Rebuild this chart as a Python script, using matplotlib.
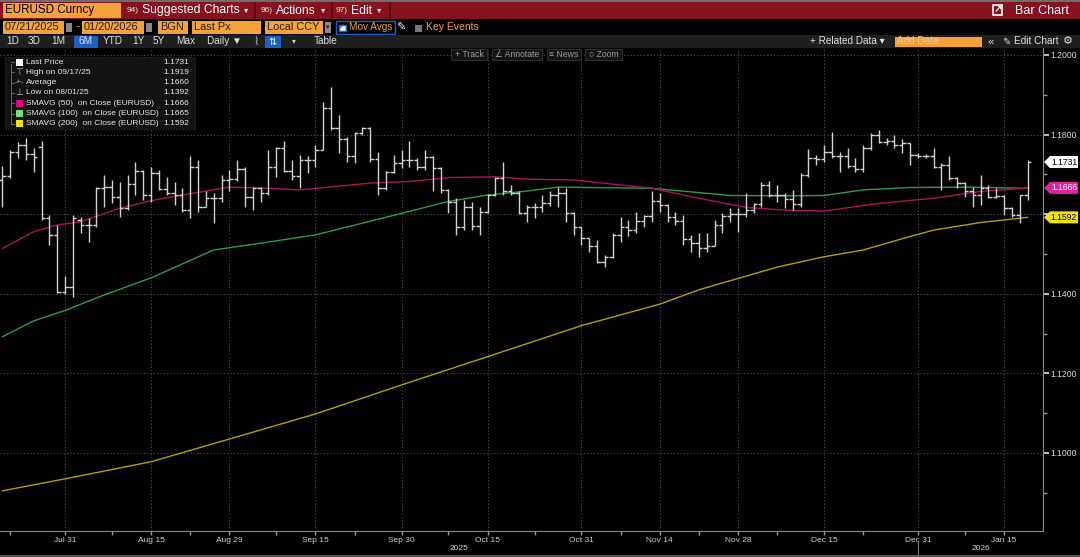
import numpy as np
import pandas as pd
import matplotlib
matplotlib.use('Agg')
import matplotlib.pyplot as plt
from matplotlib.patches import Rectangle, Polygon

plt.rcParams['font.family'] = ['Liberation Sans', 'DejaVu Sans']

# daily bars, EURUSD 07/21/2025 - 01/20/2026
dates = pd.bdate_range('2025-07-21', '2026-01-20')

opens = [1.1686, 1.1696, 1.1757, 1.1774, 1.1751, 1.1770, 1.1590, 1.1548, 1.1405, 1.1418,
         1.1585, 1.1573, 1.1573, 1.1665, 1.1668, 1.1642, 1.1615, 1.1676, 1.1709, 1.1648,
         1.1704, 1.1662, 1.1654, 1.1648, 1.1611, 1.1719, 1.1619, 1.1640, 1.1640, 1.1686,
         1.1688, 1.1713, 1.1642, 1.1665, 1.1652, 1.1718, 1.1765, 1.1709, 1.1696, 1.1736,
         1.1736, 1.1761, 1.1866, 1.1816, 1.1788, 1.1746, 1.1803, 1.1816, 1.1738, 1.1665,
         1.1707, 1.1729, 1.1736, 1.1735, 1.1718, 1.1743, 1.1715, 1.1661, 1.1631, 1.1569,
         1.1619, 1.1571, 1.1606, 1.1648, 1.1690, 1.1657, 1.1652, 1.1602, 1.1618, 1.1619,
         1.1627, 1.1648, 1.1652, 1.1602, 1.1567, 1.1539, 1.1521, 1.1481, 1.1493, 1.1548,
         1.1569, 1.1559, 1.1584, 1.1595, 1.1634, 1.1623, 1.1594, 1.1584, 1.1537, 1.1527,
         1.1514, 1.1521, 1.1573, 1.1595, 1.1600, 1.1600, 1.1611, 1.1625, 1.1673, 1.1648,
         1.1648, 1.1638, 1.1626, 1.1698, 1.1740, 1.1738, 1.1757, 1.1746, 1.1745, 1.1721,
         1.1713, 1.1765, 1.1799, 1.1782, 1.1785, 1.1774, 1.1778, 1.1749, 1.1746, 1.1746,
         1.1719, 1.1724, 1.1690, 1.1678, 1.1657, 1.1648, 1.1665, 1.1644, 1.1646, 1.1615,
         1.1598, 1.1648]
highs = [1.1721, 1.1761, 1.1782, 1.1791, 1.1765, 1.1783, 1.1598, 1.1573, 1.1445, 1.1598,
         1.1594, 1.1590, 1.1669, 1.1698, 1.1686, 1.1682, 1.1698, 1.1732, 1.1711, 1.1719,
         1.1711, 1.1694, 1.1682, 1.1665, 1.1745, 1.1736, 1.1657, 1.1652, 1.1698, 1.1711,
         1.1736, 1.1718, 1.1669, 1.1669, 1.1761, 1.1770, 1.1783, 1.1736, 1.1749, 1.1745,
         1.1774, 1.1883, 1.1919, 1.1849, 1.1795, 1.1807, 1.1820, 1.1820, 1.1757, 1.1709,
         1.1749, 1.1761, 1.1783, 1.1740, 1.1761, 1.1745, 1.1718, 1.1663, 1.1640, 1.1636,
         1.1631, 1.1619, 1.1650, 1.1694, 1.1732, 1.1674, 1.1657, 1.1623, 1.1627, 1.1648,
         1.1657, 1.1669, 1.1665, 1.1605, 1.1569, 1.1540, 1.1535, 1.1498, 1.1552, 1.1594,
         1.1585, 1.1606, 1.1598, 1.1657, 1.1652, 1.1625, 1.1606, 1.1598, 1.1548, 1.1552,
         1.1552, 1.1585, 1.1602, 1.1615, 1.1615, 1.1652, 1.1628, 1.1682, 1.1684, 1.1674,
         1.1652, 1.1661, 1.1703, 1.1763, 1.1749, 1.1774, 1.1807, 1.1757, 1.1765, 1.1740,
         1.1774, 1.1803, 1.1812, 1.1791, 1.1799, 1.1788, 1.1780, 1.1753, 1.1751, 1.1765,
         1.1728, 1.1745, 1.1694, 1.1682, 1.1669, 1.1698, 1.1674, 1.1665, 1.1648, 1.1619,
         1.1648, 1.1737]
lows = [1.1619, 1.1690, 1.1740, 1.1736, 1.1707, 1.1585, 1.1523, 1.1401, 1.1400, 1.1392,
        1.1552, 1.1531, 1.1569, 1.1619, 1.1627, 1.1594, 1.1611, 1.1648, 1.1636, 1.1631,
        1.1661, 1.1648, 1.1623, 1.1606, 1.1590, 1.1606, 1.1619, 1.1577, 1.1631, 1.1657,
        1.1684, 1.1619, 1.1611, 1.1631, 1.1648, 1.1694, 1.1707, 1.1686, 1.1665, 1.1703,
        1.1719, 1.1761, 1.1812, 1.1753, 1.1732, 1.1728, 1.1800, 1.1732, 1.1648, 1.1661,
        1.1703, 1.1715, 1.1719, 1.1711, 1.1711, 1.1657, 1.1652, 1.1602, 1.1548, 1.1560,
        1.1560, 1.1548, 1.1602, 1.1645, 1.1648, 1.1648, 1.1600, 1.1581, 1.1590, 1.1606,
        1.1621, 1.1619, 1.1581, 1.1548, 1.1523, 1.1506, 1.1477, 1.1468, 1.1490, 1.1531,
        1.1544, 1.1552, 1.1569, 1.1581, 1.1606, 1.1581, 1.1573, 1.1523, 1.1506, 1.1493,
        1.1506, 1.1519, 1.1552, 1.1581, 1.1556, 1.1594, 1.1602, 1.1619, 1.1644, 1.1631,
        1.1615, 1.1611, 1.1619, 1.1694, 1.1724, 1.1732, 1.1740, 1.1707, 1.1715, 1.1707,
        1.1707, 1.1761, 1.1778, 1.1774, 1.1765, 1.1753, 1.1724, 1.1740, 1.1740, 1.1715,
        1.1661, 1.1686, 1.1665, 1.1644, 1.1619, 1.1623, 1.1640, 1.1640, 1.1598, 1.1594,
        1.1577, 1.1635]
closes = [1.1696, 1.1757, 1.1774, 1.1751, 1.1743, 1.1590, 1.1548, 1.1405, 1.1418, 1.1590,
          1.1573, 1.1573, 1.1665, 1.1668, 1.1642, 1.1615, 1.1676, 1.1709, 1.1648, 1.1704,
          1.1662, 1.1654, 1.1648, 1.1611, 1.1719, 1.1619, 1.1640, 1.1640, 1.1686, 1.1688,
          1.1713, 1.1642, 1.1665, 1.1652, 1.1718, 1.1765, 1.1709, 1.1696, 1.1736, 1.1736,
          1.1761, 1.1866, 1.1816, 1.1788, 1.1746, 1.1803, 1.1816, 1.1738, 1.1665, 1.1707,
          1.1729, 1.1736, 1.1735, 1.1718, 1.1743, 1.1715, 1.1661, 1.1631, 1.1569, 1.1619,
          1.1571, 1.1606, 1.1648, 1.1690, 1.1657, 1.1652, 1.1602, 1.1618, 1.1619, 1.1627,
          1.1648, 1.1652, 1.1602, 1.1567, 1.1539, 1.1521, 1.1481, 1.1493, 1.1548, 1.1569,
          1.1559, 1.1584, 1.1595, 1.1634, 1.1623, 1.1594, 1.1584, 1.1537, 1.1527, 1.1514,
          1.1521, 1.1573, 1.1595, 1.1600, 1.1600, 1.1611, 1.1625, 1.1673, 1.1648, 1.1648,
          1.1638, 1.1626, 1.1698, 1.1740, 1.1738, 1.1757, 1.1746, 1.1745, 1.1721, 1.1713,
          1.1765, 1.1799, 1.1782, 1.1785, 1.1774, 1.1778, 1.1749, 1.1746, 1.1746, 1.1719,
          1.1724, 1.1690, 1.1678, 1.1657, 1.1648, 1.1665, 1.1644, 1.1646, 1.1615, 1.1598,
          1.1648, 1.1731]

# moving averages (bar index, value)
sma50_idx = [0, 4, 7, 10, 15, 19, 23, 29, 34, 38, 47, 52, 57, 63, 67, 73, 83, 89, 95,
             101, 105, 112, 119, 125, 131]
sma50_val = [1.1514, 1.1556, 1.1573, 1.1581, 1.1615, 1.1634, 1.1648, 1.1668, 1.1665,
             1.1661, 1.1678, 1.1682, 1.1692, 1.1694, 1.1688, 1.1686, 1.1665, 1.1640,
             1.1617, 1.1609, 1.1608, 1.1627, 1.1640, 1.1657, 1.1666]
sma100_idx = [0, 4, 8, 13, 19, 27, 34, 40, 51, 57, 62, 67, 71, 83, 93, 100, 105, 110,
              116, 123, 131]
sma100_val = [1.1292, 1.1332, 1.1358, 1.1397, 1.1440, 1.1510, 1.1530, 1.1548, 1.1602,
              1.1632, 1.1648, 1.1658, 1.1668, 1.1665, 1.1647, 1.1646, 1.1647, 1.1661,
              1.1667, 1.1668, 1.1665]
sma200_idx = [0, 8, 19, 29, 40, 51, 62, 74, 84, 89, 99, 105, 110, 116, 119, 125, 131]
sma200_val = [1.0905, 1.0935, 1.0978, 1.1035, 1.1098, 1.1171, 1.1242, 1.1320, 1.1374,
              1.1410, 1.1467, 1.1493, 1.1510, 1.1544, 1.1560, 1.1579, 1.1592]

tick_dates = ['2025-07-31', '2025-08-15', '2025-08-29', '2025-09-15', '2025-09-30',
              '2025-10-15', '2025-10-31', '2025-11-14', '2025-11-28', '2025-12-15',
              '2025-12-31', '2026-01-15']
tick_labels = ['Jul 31', 'Aug 15', 'Aug 29', 'Sep 15', 'Sep 30', 'Oct 15', 'Oct 31',
               'Nov 14', 'Nov 28', 'Dec 15', 'Dec 31', 'Jan 15']
minor_dates = ['2025-07-22', '2025-08-08', '2025-08-22', '2025-09-08', '2025-09-22',
               '2025-10-08', '2025-10-23', '2025-11-07', '2025-11-21', '2025-12-05',
               '2025-12-22', '2026-01-08']

y_major = [1.10, 1.12, 1.14, 1.16, 1.18, 1.20]
y_minor = [1.09, 1.11, 1.13, 1.15, 1.17, 1.19]

W, H = 1080, 557
fig = plt.figure(figsize=(W / 100, H / 100), dpi=100, facecolor='black')

ax = fig.add_axes([0, 1 - 531 / H, 1043 / W, (531 - 47) / H])
ax.set_facecolor('black')
x = np.arange(len(dates))
barc = '#d2d2d2'
ax.vlines(x, lows, highs, color=barc, lw=1, zorder=3)
ax.hlines(opens, x - 0.45, x, color=barc, lw=1, zorder=3)
ax.hlines(closes, x, x + 0.45, color=barc, lw=1, zorder=3)
ax.plot(sma200_idx, sma200_val, color='#b3a100', lw=1, zorder=2)
ax.plot(sma100_idx, sma100_val, color='#2f9c48', lw=1, zorder=2)
ax.plot(sma50_idx, sma50_val, color='#a8145e', lw=1, zorder=2)

ax.set_xlim(-0.31, 132.98)
ax.set_ylim(1.0804, 1.2020)

ax.yaxis.tick_right()
ax.set_yticks(y_major)
ax.set_yticks(y_minor, minor=True)
ax.set_yticklabels(['%.4f' % v for v in y_major])
pos = [dates.get_loc(pd.Timestamp(d)) for d in tick_dates]
ax.set_xticks(pos)
ax.set_xticklabels(tick_labels)
ax.set_xticks([dates.get_loc(pd.Timestamp(d)) for d in minor_dates], minor=True)
ax.tick_params(axis='y', which='major', direction='out', length=4, width=1.5,
               color='#bbbbbb', labelsize=6.2, labelcolor='#dcdcdc', pad=1.5)
ax.tick_params(axis='y', which='minor', direction='out', length=3, width=1, color='#999999')
ax.tick_params(axis='x', which='both', direction='out', length=3, width=1,
               color='#999999', labelsize=6, labelcolor='#cfcfcf', pad=1)
ax.grid(which='major', color='#505050', linestyle=(0, (1, 2)), lw=0.8, zorder=0)
for s in ['left', 'top']:
    ax.spines[s].set_visible(False)
for s in ['right', 'bottom']:
    ax.spines[s].set_color('#8a8a8a')

# year labels under the axis
yr_split = dates.get_loc(pd.Timestamp('2025-12-31'))
for label, a, b in [('2025', -0.31, yr_split), ('2026', yr_split, 132.98)]:
    ax.text((a + b) / 2, -0.036, label, transform=ax.get_xaxis_transform(),
            ha='center', va='center', fontsize=6, color='#cfcfcf')
ax.plot([yr_split] * 2, [-0.02, -0.05], transform=ax.get_xaxis_transform(),
        color='#777777', lw=0.8, clip_on=False)

# overlay in pixel coordinates for the terminal chrome
ov = fig.add_axes([0, 0, 1, 1], zorder=5)
ov.set_xlim(0, W)
ov.set_ylim(H, 0)
ov.axis('off')

ORANGE = '#f5a13a'
RED = '#86111f'
BLUE = '#1d5fc4'


def box(x0, y0, x1, y1, fc, ec='none', lw=0.8, ls='-'):
    ov.add_patch(Rectangle((x0, y0), x1 - x0, y1 - y0, facecolor=fc, edgecolor=ec,
                           lw=lw, ls=ls))


def txt(x0, y0, s, size=8.5, color='white', ha='left', **kw):
    ov.text(x0, y0, s, fontsize=size, color=color, ha=ha, va='center', **kw)


# frame
box(0, 0, W, 2, '#6e6e6e')
box(0, H - 2, W, H, '#555555')
# row 1
box(0, 2, W, 19, RED)
box(3, 3, 121, 17.5, ORANGE)
txt(5, 10.5, 'EURUSD Curncy', 8.4, 'black')
for xs in [254, 331, 389]:
    box(xs, 2, xs + 1.5, 19, '#5a0a14')
txt(127, 10.5, '94)', 6, '#e8e8e8')
txt(142, 10.5, 'Suggested Charts', 8.7)
txt(244, 10.5, '▾', 6)
txt(261, 10.5, '96)', 6, '#e8e8e8')
txt(276, 10.5, 'Actions', 8.7)
txt(321, 10.5, '▾', 6)
txt(336, 10.5, '97)', 6, '#e8e8e8')
txt(351, 10.5, 'Edit', 8.7)
txt(377, 10.5, '▾', 6)
ov.add_patch(Rectangle((993, 5), 9, 10, facecolor='none', edgecolor='white', lw=1.2))
txt(998, 9.5, '↗', 7, 'white', ha='center', fontweight='bold')
txt(1015, 10.5, 'Bar Chart', 9)

# row 2
box(0, 19, W, 35, 'black')
fields = [(3, 64, '07/21/2025'), (82, 144, '01/20/2026'), (158, 188, 'BGN'),
          (192, 261, 'Last Px'), (265, 323, 'Local CCY')]
for a, b, s in fields:
    box(a, 21, b, 34, ORANGE)
    txt(a + 2, 27.5, s, 7.9, '#222222')
for a in [66, 146]:
    box(a, 23, a + 5.5, 32, '#8a8a8a')
txt(75, 27.5, '-', 9, ORANGE)
box(325, 22, 331, 33, '#8a8a8a')
txt(328, 27.5, '▾', 5, '#222222', ha='center')
box(336, 21, 395, 34, 'none', ec=BLUE, lw=1)
box(339, 24.5, 345.5, 31, 'white', ec=BLUE, lw=1)
txt(342.2, 27.7, '✓', 5.5, BLUE, ha='center', fontweight='bold')
txt(349, 27.5, 'Mov Avgs', 7.2, ORANGE)
txt(401, 27.5, '✎', 8, 'white', ha='center')
box(415, 24.5, 422, 31.5, '#777777')
txt(426, 27.5, 'Key Events', 7.5, ORANGE)

# row 3
box(0, 35, W, 48, '#1f1f1f')
periods = [(13, '1D'), (34, '3D'), (58, '1M'), (86, '6M'), (113, 'YTD'), (138, '1Y'),
           (159, '5Y'), (186, 'Max')]
box(74, 36, 98, 47.5, BLUE)
for xp, s in periods:
    txt(xp, 41.5, s, 7.2, '#e0e0e0', ha='center')
txt(207, 41.5, 'Daily ▼', 7.2, '#e0e0e0')
txt(255.5, 41.5, '⌇', 8, '#bbbbbb', ha='center')
box(264.5, 36, 280.5, 47.5, BLUE)
txt(272.5, 41.5, '⇅', 7, 'white', ha='center')
txt(294, 41.5, '▾', 5.5, '#cccccc', ha='center')
txt(326, 41.5, 'Table', 7.2, '#e0e0e0', ha='center')
txt(810, 41.5, '+ Related Data ▾', 7.2, '#e0e0e0')
box(895, 36.5, 982, 47, ORANGE)
txt(897, 41.5, 'Add Data', 7.2, '#f7c98f')
txt(991, 41.5, '«', 8, '#e0e0e0', ha='center')
txt(1006.5, 41.5, '✎', 7, '#e0e0e0', ha='center')
txt(1014, 41.5, 'Edit Chart', 7.2, '#e0e0e0')
txt(1068, 41.5, '⚙', 8, '#e0e0e0', ha='center')

# chart toolbar
for a, b, s in [(451, 487, '+ Track'), (492, 542, '∠ Annotate'), (547, 581, '≡ News'),
                (585, 622, '○ Zoom')]:
    box(a, 49, b, 60, '#141414', ec='#333333', lw=0.6)
    txt((a + b) / 2, 54.5, s, 6.2, '#a0a0a0', ha='center')

# legend panel
box(5, 57, 195, 129, '#121212', ec='#3c3c3c', lw=0.7, ls=':')
ov.plot([11, 11], [64, 124], color='#666666', lw=0.7)
hi = int(np.argmax(highs))
lo = int(np.argmin(lows))
legend_rows = [
    ('sq', 'white', 'Last Price', '%.4f' % closes[-1]),
    ('T', None, 'High on ' + dates[hi].strftime('%m/%d/%y'), '%.4f' % highs[hi]),
    ('avg', None, 'Average', '1.1660'),
    ('L', None, 'Low on ' + dates[lo].strftime('%m/%d/%y'), '%.4f' % lows[lo]),
    ('sq', '#e4007f', 'SMAVG (50)  on Close (EURUSD)', '%.4f' % sma50_val[-1]),
    ('sq', '#6ee07c', 'SMAVG (100)  on Close (EURUSD)', '%.4f' % sma100_val[-1]),
    ('sq', '#f2e600', 'SMAVG (200)  on Close (EURUSD)', '%.4f' % sma200_val[-1]),
]
for k, (kind, col, label, val) in enumerate(legend_rows):
    yy = 62 + k * 10.3
    ov.plot([11, 14], [yy, yy], color='#666666', lw=0.7)
    if kind == 'sq':
        box(16, yy - 3.5, 23, yy + 3.5, col)
    elif kind == 'T':
        txt(19.5, yy, '⊤', 6.5, '#bbbbbb', ha='center')
    elif kind == 'L':
        txt(19.5, yy, '⊥', 6.5, '#bbbbbb', ha='center')
    else:
        txt(19.5, yy, '-+-', 5.5, '#bbbbbb', ha='center')
    txt(26, yy, label, 6.0, '#e6e6e6')
    txt(189, yy, val, 6.0, '#e6e6e6', ha='right')

# value tags on the price axis
for val, fc, tc in [(closes[-1], 'white', 'black'),
                    (sma50_val[-1], '#e0239c', 'white'),
                    (sma200_val[-1], '#f0e30c', 'black')]:
    ypx = H - ax.transData.transform((0, val))[1]
    ov.add_patch(Polygon([(1044, ypx), (1050, ypx - 6), (1078, ypx - 6),
                          (1078, ypx + 6), (1050, ypx + 6)], closed=True,
                         facecolor=fc, edgecolor='none'))
    txt(1064, ypx, '%.4f' % val, 6.2, tc, ha='center')

fig.savefig('out.png', dpi=100, facecolor='black')
